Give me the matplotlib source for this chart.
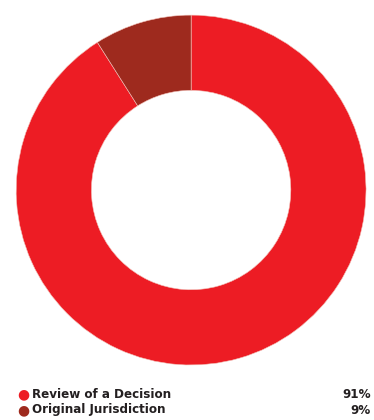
import matplotlib.pyplot as plt

labels = ['Review of a Decision', 'Original Jurisdiction']
shares = [91, 9]
colors = ['#ED1C24', '#9E2A1E']

fig = plt.figure(figsize=(3.74, 4.2), dpi=100)
ax = fig.add_axes([0.043, 0.131, 0.936, 0.833])
ax.pie(shares, colors=colors, startangle=90, counterclock=False, radius=1,
       wedgeprops=dict(width=0.43, edgecolor='#f2c0b8', linewidth=0.4))
ax.set_xlim(-1, 1)
ax.set_ylim(-1, 1)
ax.set_aspect('equal')
ax.axis('off')

# legend rows with value on the right
row_y = [394, 410]
for lab, val, col, y in zip(labels, shares, colors, row_y):
    fy = 1 - y / 420
    fig.text(23 / 374, fy, '\u25CF', color=col, fontsize=10, ha='center', va='center')
    fig.text(32 / 374, fy, lab, fontsize=9.5, fontweight='bold', fontstretch='condensed',
             color='#231f20', ha='left', va='center')
    fig.text(371 / 374, fy, f'{val}%', fontsize=9.5, fontweight='bold', fontstretch='condensed',
             color='#231f20', ha='right', va='center')

fig.savefig('out.png', dpi=100)
